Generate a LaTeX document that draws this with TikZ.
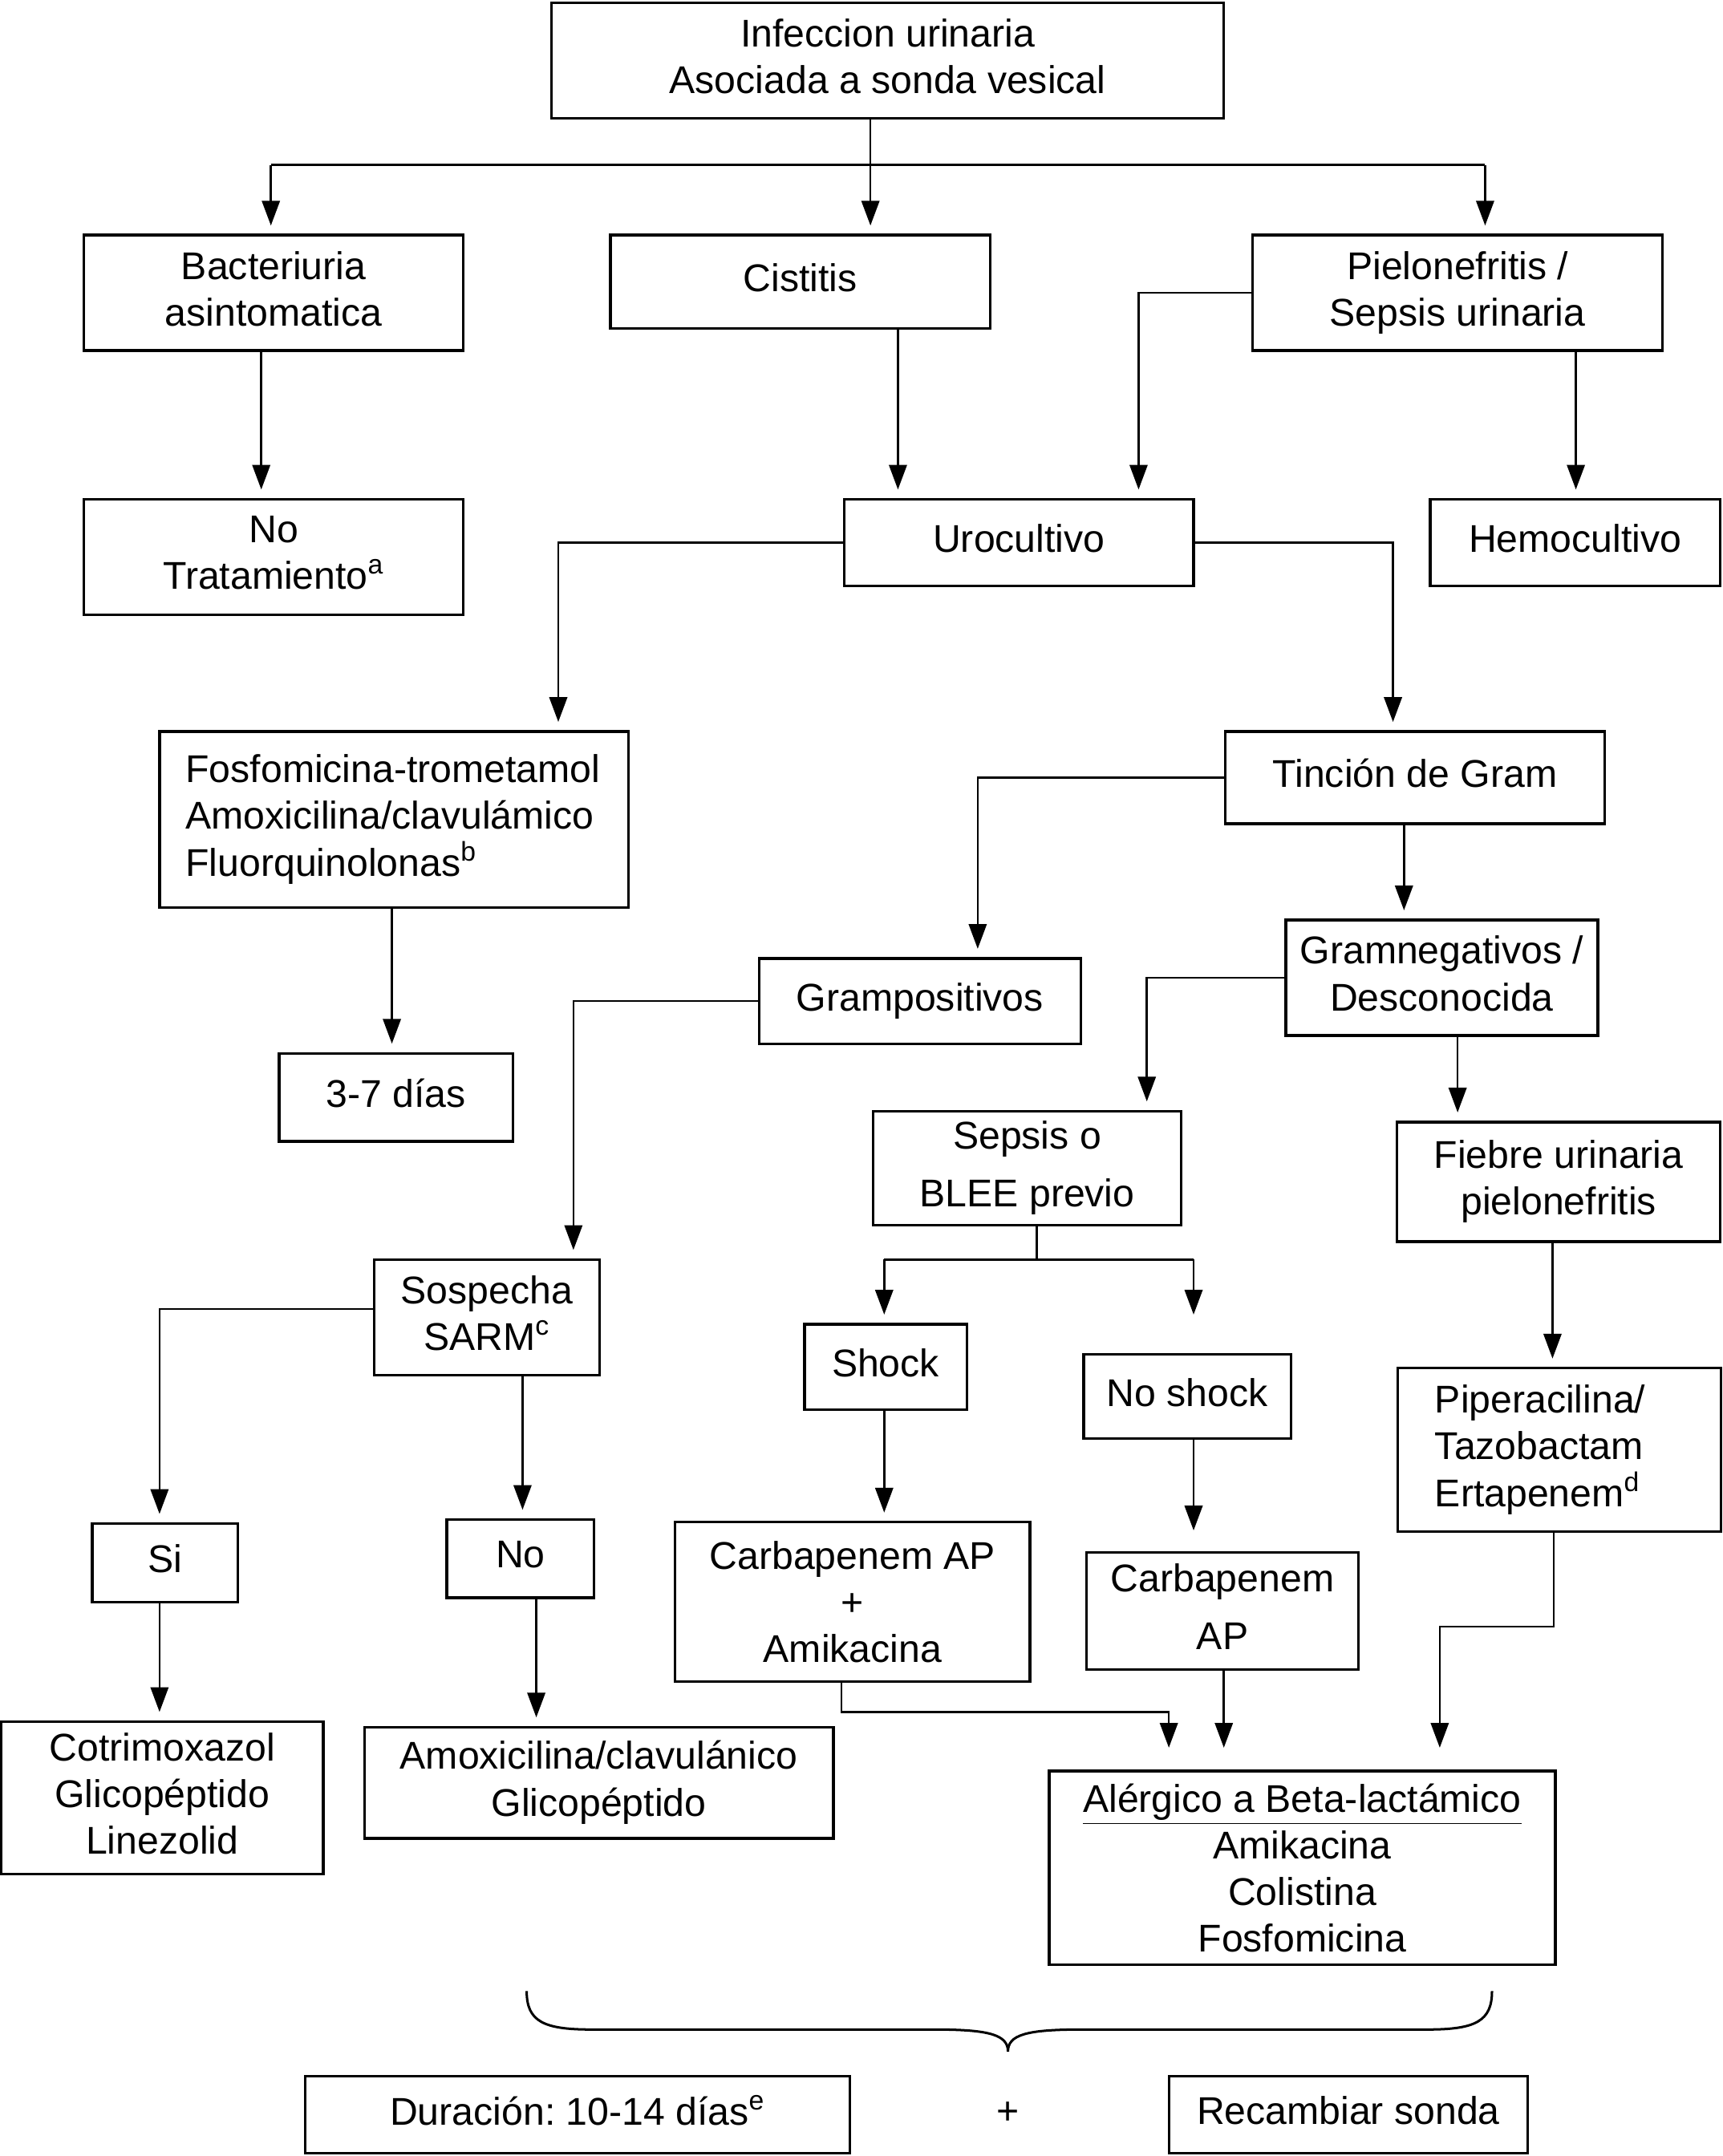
\documentclass[tikz,border=0pt]{standalone}
\usepackage{fontspec}
\setmainfont{Liberation Sans}
\usetikzlibrary{arrows.meta}
\frenchspacing
\newcommand\mystrut{\rule[-0.22em]{0pt}{0pt}}
\tikzset{
 box/.style={draw, line width=1.1pt, inner sep=0pt, align=center, font=\fontsize{16}{19.3}\selectfont},
 nostrut/.style={execute at begin node={\let\mystrut\relax}},
 ln/.style={draw, line width=0.85pt},
 arr/.style={ln, -{Triangle[length=0.36cm,width=0.26cm]}, shorten >=0.12cm},
 wide/.style={font=\fontsize{16}{23.8}\selectfont},
}
\newcommand\drawbox[7][]{\node[box,minimum width={(#5-#3)*0.02cm},minimum height={(#6-#4)*0.02cm},#1] (#2) at ({(#3+#5)/2},{(#4+#6)/2}) {#7\mystrut};}
\begin{document}
\begin{tikzpicture}[x=0.02cm,y=-0.02cm]
\useasboundingbox (0,0) rectangle (1253,1568);
\drawbox{top}{401}{2}{890}{86}{Infeccion urinaria\\Asociada a sonda vesical}
\drawbox{bact}{61}{171}{337}{255}{Bacteriuria\\asintomatica}
\drawbox{cist}{444}{171}{720}{239}{Cistitis}
\drawbox{piel}{911}{171}{1209}{255}{Pielonefritis /\\Sepsis urinaria}
\drawbox{notrat}{61}{363}{337}{447}{No\\Tratamiento\textsuperscript{a}}
\drawbox{uro}{614}{363}{868}{426}{Urocultivo}
\drawbox{hemo}{1040}{363}{1251}{426}{Hemocultivo}
\drawbox[align=left,text width=6.06cm,inner xsep=0.38cm]{fosf}{116}{532}{457}{660}{Fosfomicina-trometamol\\Amoxicilina/clavulámico\\Fluorquinolonas\textsuperscript{b}}
\drawbox{tinc}{891}{532}{1167}{599}{Tinción de Gram}
\drawbox{dias}{203}{766}{373}{830}{3-7 días}
\drawbox{grampos}{552}{697}{786}{759}{Grampositivos}
\drawbox{gramneg}{935}{669}{1162}{753}{Gramnegativos /\\Desconocida}
\drawbox[wide]{sepsis}{635}{808}{859}{891}{Sepsis o\\BLEE previo}
\drawbox{fiebre}{1016}{816}{1251}{903}{Fiebre urinaria\\pielonefritis}
\drawbox{sosp}{272}{916}{436}{1000}{Sospecha\\SARM\textsuperscript{c}}
\drawbox{shock}{585}{963}{703}{1025}{Shock}
\drawbox{noshock}{788}{985}{939}{1046}{No shock}
\drawbox[align=left,text width=3.62cm,inner xsep=0.54cm]{piper}{1017}{995}{1251}{1114}{Piperacilina/\\Tazobactam\\Ertapenem\textsuperscript{d}}
\drawbox{si}{67}{1108}{173}{1165}{Si}
\drawbox{no}{325}{1105}{432}{1162}{No}
\drawbox[nostrut]{carbA}{491}{1107}{749}{1223}{Carbapenem AP\\+\\Amikacina}
\drawbox[wide]{carbB}{790}{1129}{988}{1214}{Carbapenem\\AP}
\drawbox{cotri}{1}{1252}{235}{1363}{Cotrimoxazol\\Glicopéptido\\Linezolid}
\drawbox{amox}{265}{1256}{606}{1337}{Amoxicilina/clavulánico\\Glicopéptido}
\drawbox[nostrut]{alerg}{763}{1288}{1131}{1429}{\underline{Alérgico a Beta-lactámico}\\Amikacina\\Colistina\\Fosfomicina}
\drawbox{dur}{222}{1510}{618}{1566}{Duración: 10-14 días\textsuperscript{e}}
\drawbox{recamb}{850}{1510}{1111}{1566}{Recambiar sonda}
\node[font=\fontsize{16}{19.3}\selectfont] (plus) at (733,1537) {+};
% connectors
\coordinate (j1) at (633,120);
\coordinate (jL) at (197,120);
\coordinate (jR) at (1080,120);
\draw[ln] (jL) -- (jR);
\draw[arr] (top.south -| j1) -- (j1 |- cist.north);
\draw[arr] (jL) -- (jL |- bact.north);
\draw[arr] (jR) -- (jR |- piel.north);
\coordinate (xa) at (190,0); \draw[arr] (bact.south -| xa) -- (xa |- notrat.north);
\coordinate (xb) at (653,0); \draw[arr] (cist.south -| xb) -- (xb |- uro.north);
\coordinate (xc) at (828,0); \draw[arr] (piel.west) -| (xc |- uro.north);
\coordinate (xd) at (1146,0); \draw[arr] (piel.south -| xd) -- (xd |- hemo.north);
\coordinate (xe) at (406,0); \draw[arr] (uro.west) -| (xe |- fosf.north);
\coordinate (xf) at (1013,0); \draw[arr] (uro.east) -| (xf |- tinc.north);
\coordinate (xg) at (285,0); \draw[arr] (fosf.south -| xg) -- (xg |- dias.north);
\coordinate (xh) at (711,0); \draw[arr] (tinc.west) -| (xh |- grampos.north);
\coordinate (xi) at (1021,0); \draw[arr] (tinc.south -| xi) -- (xi |- gramneg.north);
\coordinate (xj) at (417,0); \draw[arr] (grampos.west) -| (xj |- sosp.north);
\coordinate (xk) at (834,0); \draw[arr] (gramneg.west) -| (xk |- sepsis.north);
\coordinate (xl) at (1060,0); \draw[arr] (gramneg.south -| xl) -- (xl |- fiebre.north);
\coordinate (jS) at (754,916); \coordinate (jSL) at (643,916); \coordinate (jSR) at (868,916);
\draw[ln] (sepsis.south -| jS) -- (jS);
\draw[ln] (jSL) -- (jSR);
\draw[arr] (jSL) -- (jSL |- shock.north);
\draw[arr] (jSR) -- (jSR |- shock.north);
\coordinate (xm) at (1129,0); \draw[arr] (fiebre.south -| xm) -- (xm |- piper.north);
\coordinate (xn) at (116,0); \coordinate (yS) at (0,952);
\draw[arr] (sosp.west |- yS) -| (xn |- si.north);
\coordinate (xo) at (380,0); \draw[arr] (sosp.south -| xo) -- (xo |- no.north);
\draw[arr] (shock.south -| jSL) -- (jSL |- carbA.north);
\draw[arr, shorten >=0.3cm] (noshock.south -| jSR) -- (jSR |- carbB.north);
\draw[arr] (si.south -| xn) -- (xn |- cotri.north);
\coordinate (xp) at (390,0); \draw[arr] (no.south -| xp) -- (xp |- amox.north);
\coordinate (k1) at (612,1245); \coordinate (k2) at (850,1245);
\draw[arr, shorten >=0.32cm] (carbA.south -| k1) -- (k1) -- (k2) -- (k2 |- alerg.north);
\coordinate (xq) at (890,0); \draw[arr, shorten >=0.32cm] (carbB.south -| xq) -- (xq |- alerg.north);
\coordinate (p1) at (1130,1183); \coordinate (p2) at (1047,1183);
\draw[arr, shorten >=0.32cm] (piper.south -| p1) -- (p1) -- (p2) -- (p2 |- alerg.north);
% brace
\draw[ln, line width=1pt] (383,1448) .. controls (383,1470) and (395,1476) .. (430,1476) -- (680,1476) .. controls (720,1476) and (733,1480) .. (733,1492) .. controls (733,1480) and (746,1476) .. (786,1476) -- (1038,1476) .. controls (1073,1476) and (1085,1470) .. (1085,1448);
\end{tikzpicture}
\end{document}
